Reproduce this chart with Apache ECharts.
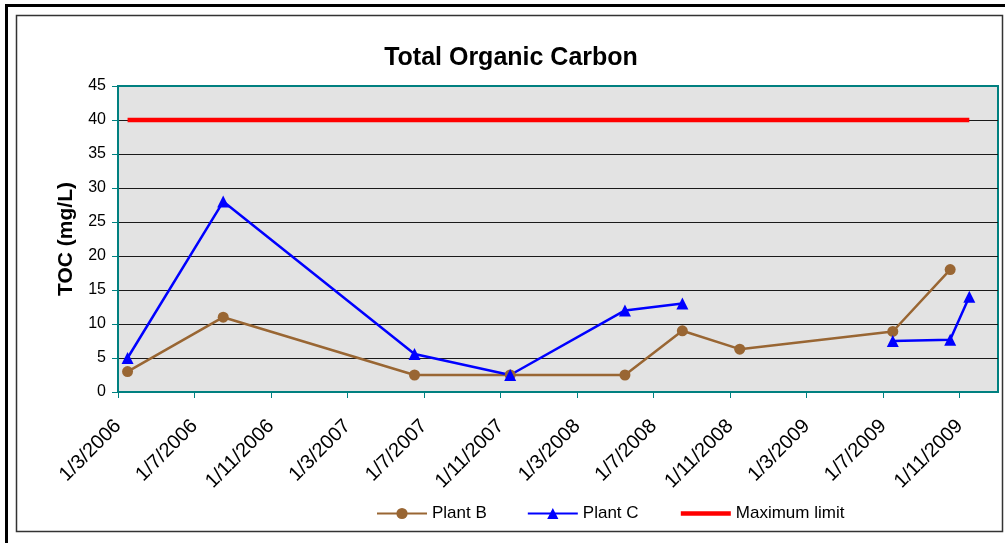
<!DOCTYPE html>
<html>
<head>
<meta charset="utf-8">
<script src="https://cdn.jsdelivr.net/npm/echarts@6/dist/echarts.min.js"></script>
<style>
  html, body { margin: 0; padding: 0; background: #fff; }
  #chart { width: 1005px; height: 543px; }
</style>
</head>
<body>
<div id="chart"></div>
<script>
// sample months (month base unit, like the original spreadsheet)
const sampleMonths = ['2006-03', '2006-08', '2007-06', '2007-11', '2008-05', '2008-08', '2008-11', '2009-07', '2009-10', '2009-11'];
const plantB = [3, 11, 2.5, 2.5, 2.5, 9, 6.3, 8.9, 18, null];
const plantC = [5, 28, 5.6, 2.5, 12, 13, null, 7.5, 7.7, 14];
const maxLimit = [40, 40, 40, 40, 40, 40, 40, 40, 40, 40];
const tickLabels = ['1/3/2006', '1/7/2006', '1/11/2006', '1/3/2007', '1/7/2007', '1/11/2007',
  '1/3/2008', '1/7/2008', '1/11/2008', '1/3/2009', '1/7/2009', '1/11/2009'];

// months counted from March 2006, point sits in the middle of its month
function monthPos(s) {
  const [y, m] = s.split('-').map(Number);
  return (y - 2006) * 12 + (m - 3) + 0.5;
}
function pairs(vals) {
  return sampleMonths.map((s, i) => [monthPos(s), vals[i] == null ? '-' : vals[i]]);
}

const font = 'Liberation Sans, Arial, sans-serif';
const teal = '#008080';
const chart = echarts.init(document.getElementById('chart'));
chart.setOption({
  animation: false,
  textStyle: { fontFamily: font },
  title: {
    text: 'Total Organic Carbon',
    left: 506,
    textAlign: 'center',
    top: 41,
    textStyle: { fontSize: 25, fontWeight: 'bold', color: '#000', fontFamily: font }
  },
  grid: {
    left: 118,
    right: 7,
    top: 86,
    bottom: 151,
    show: true,
    backgroundColor: '#e3e3e3',
    borderColor: teal,
    borderWidth: 2
  },
  legend: {
    left: 371,
    top: 500,
    itemWidth: 50,
    itemHeight: 14,
    itemGap: 40,
    textStyle: { fontSize: 17, color: '#000', fontFamily: font },
    data: [
      'Plant B',
      'Plant C',
      { name: 'Maximum limit', itemStyle: { opacity: 0 }, lineStyle: { width: 4.5 } }
    ]
  },
  xAxis: {
    type: 'value',
    min: 0,
    max: 46,
    interval: 4,
    axisLine: { show: true, lineStyle: { color: teal, width: 2 } },
    axisTick: { show: true, length: 6, lineStyle: { color: teal, width: 1 } },
    splitLine: { show: false },
    axisLabel: {
      rotate: 45,
      margin: 31,
      fontSize: 20,
      color: '#000',
      fontFamily: font,
      showMaxLabel: false,
      formatter: v => (v % 4 === 0 ? (tickLabels[v / 4] || '') : '')
    }
  },
  yAxis: {
    type: 'value',
    min: 0,
    max: 45,
    interval: 5,
    name: 'TOC (mg/L)',
    nameLocation: 'middle',
    nameGap: 41,
    nameTextStyle: { fontSize: 21, fontWeight: 'bold', color: '#000', fontFamily: font },
    axisLine: { show: true, lineStyle: { color: teal, width: 2 } },
    axisTick: { show: true, length: 6, lineStyle: { color: teal, width: 1 } },
    splitLine: { show: true, showMaxLine: false, lineStyle: { color: '#1a1a1a', width: 1 } },
    axisLabel: { margin: 12, fontSize: 16, color: '#000', fontFamily: font }
  },
  series: [
    {
      name: 'Plant B',
      type: 'line',
      data: pairs(plantB),
      symbol: 'circle',
      symbolSize: 11,
      lineStyle: { color: '#996633', width: 2.5 },
      itemStyle: { color: '#996633' }
    },
    {
      name: 'Plant C',
      type: 'line',
      data: pairs(plantC),
      symbol: 'triangle',
      symbolSize: 12,
      lineStyle: { color: '#0000ff', width: 2.5 },
      itemStyle: { color: '#0000ff' }
    },
    {
      name: 'Maximum limit',
      type: 'line',
      data: pairs(maxLimit),
      symbol: 'none',
      lineStyle: { color: '#ff0000', width: 4.5 },
      itemStyle: { color: '#ff0000' }
    }
  ],
  graphic: [
    // outer frame (top and left)
    { type: 'rect', shape: { x: 5, y: 4, width: 1000, height: 3 }, style: { fill: '#000' }, silent: true },
    { type: 'rect', shape: { x: 5, y: 4, width: 3, height: 539 }, style: { fill: '#000' }, silent: true },
    // chart area border
    { type: 'rect', shape: { x: 16.5, y: 15.5, width: 986, height: 516 }, style: { fill: 'none', stroke: '#333', lineWidth: 1.5 }, silent: true }
  ]
});
</script>
</body>
</html>
